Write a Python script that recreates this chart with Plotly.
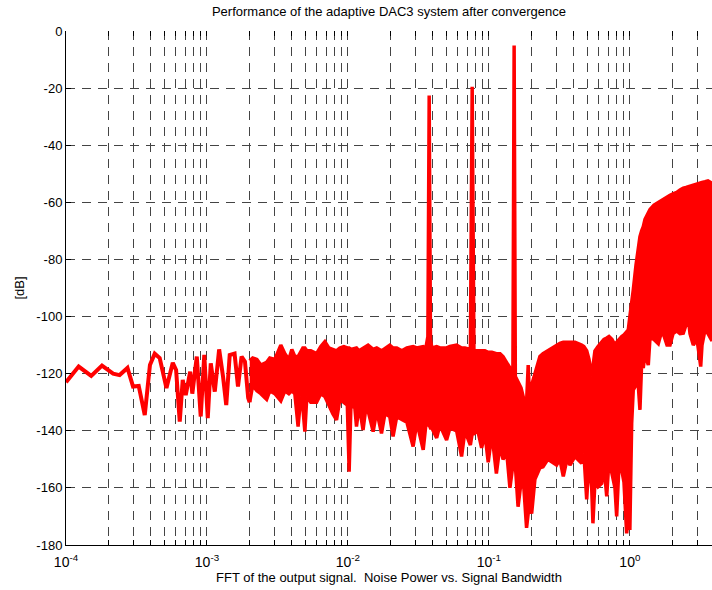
import math
import plotly.graph_objects as go

# Low-frequency part of the spectrum (sparse FFT bins), frequency and level in dB
line_freq = [1.00e-4, 1.23e-4, 1.51e-4, 1.80e-4, 2.16e-4, 2.40e-4, 2.73e-4, 2.99e-4,
             3.28e-4, 3.62e-4, 3.94e-4, 4.26e-4, 4.62e-4, 5.16e-4, 5.72e-4, 6.04e-4,
             6.41e-4, 6.73e-4, 7.07e-4, 7.60e-4, 7.87e-4, 8.47e-4, 9.03e-4, 9.57e-4,
             1.013e-3, 1.064e-3, 1.136e-3, 1.22e-3, 1.30e-3, 1.37e-3, 1.45e-3, 1.57e-3,
             1.66e-3, 1.76e-3, 1.86e-3, 1.96e-3]
line_db = [-123.0, -117.5, -120.8, -117.2, -120.0, -120.5, -118.0, -124.5,
           -124.3, -134.5, -117.0, -113.0, -114.5, -125.0, -116.2, -118.7,
           -136.8, -122.2, -127.5, -119.3, -127.0, -114.0, -135.0, -113.4,
           -135.6, -116.4, -126.3, -111.5, -121.0, -131.0, -113.5, -113.0,
           -124.5, -114.0, -115.8, -128.5]

# Dense part of the spectrum: upper and lower envelope of the FFT bins
band_freq = [2.01e-3, 2.11e-3, 2.26e-3, 2.41e-3, 2.65e-3, 2.79e-3, 3.03e-3, 3.34e-3,
             3.57e-3, 3.81e-3, 4.00e-3, 4.20e-3, 4.43e-3, 4.63e-3, 4.79e-3, 4.95e-3,
             5.11e-3, 5.45e-3, 5.99e-3, 6.42e-3, 6.86e-3, 7.32e-3, 7.81e-3, 8.30e-3,
             8.76e-3, 9.35e-3, 9.90e-3, 1.02e-2, 1.05e-2, 1.12e-2, 1.15e-2, 1.20e-2,
             1.28e-2, 1.34e-2, 1.39e-2, 1.51e-2, 1.60e-2, 1.73e-2, 1.83e-2, 1.98e-2,
             2.09e-2, 2.22e-2, 2.41e-2, 2.62e-2, 2.90e-2, 3.08e-2, 3.42e-2, 3.57e-2,
             3.69e-2, 3.77e-2, 3.85e-2, 3.94e-2, 4.26e-2, 4.49e-2, 5.01e-2, 5.29e-2,
             5.90e-2, 6.40e-2, 6.76e-2, 7.39e-2, 7.61e-2, 7.83e-2, 8.35e-2, 8.88e-2,
             9.37e-2, 9.89e-2, 0.105, 0.113, 0.120, 0.126, 0.134, 0.141,
             0.148, 0.151, 0.154, 0.161, 0.169, 0.177, 0.185, 0.190,
             0.194, 0.201, 0.212, 0.230, 0.242, 0.262, 0.280, 0.302,
             0.319, 0.337, 0.358, 0.376, 0.408, 0.455, 0.472, 0.494,
             0.513, 0.536, 0.547, 0.565, 0.594, 0.631, 0.655, 0.685,
             0.711, 0.746, 0.784, 0.806, 0.837, 0.875, 0.908, 0.949,
             0.974, 1.000, 1.030, 1.057, 1.105, 1.147, 1.179, 1.212,
             1.245, 1.280, 1.351, 1.389, 1.483, 1.591, 1.663, 1.726,
             1.834, 1.926, 2.022, 2.149, 2.268, 2.393, 2.502, 2.597,
             2.670, 2.818, 2.994, 3.094, 3.181, 3.249, 3.412, 3.584,
             3.825]
band_upper = [-115.5, -114.5, -115.0, -117.0, -116.0, -114.5, -115.0, -110.0,
              -113.0, -115.0, -111.5, -114.0, -114.0, -112.5, -111.0, -111.0,
              -112.0, -112.0, -113.0, -110.5, -108.8, -111.0, -111.5, -112.0,
              -111.0, -110.5, -111.0, -111.0, -111.5, -111.0, -111.0, -112.0,
              -111.0, -110.5, -110.0, -111.5, -111.0, -112.0, -111.0, -110.0,
              -111.0, -111.0, -112.0, -111.0, -110.5, -111.0, -110.5, -111.0,
              -107.0, -22.6, -108.0, -111.0, -110.5, -111.0, -111.0, -110.5,
              -110.0, -111.0, -111.0, -111.5, -19.5, -112.0, -112.0, -112.0,
              -112.0, -112.5, -112.5, -113.0, -113.0, -114.0, -116.0, -118.0,
              -119.0, -5.1, -121.0, -123.0, -125.0, -129.0, -130.0, -117.0,
              -128.0, -124.0, -120.0, -114.0, -113.0, -112.0, -111.0, -110.0,
              -109.4, -109.0, -109.0, -108.8, -109.0, -110.0, -110.5, -112.0,
              -115.0, -121.0, -118.0, -112.0, -110.5, -109.0, -108.0, -107.5,
              -107.0, -108.0, -110.0, -109.0, -108.0, -107.0, -106.4, -105.5,
              -104.7, -100.0, -96.0, -90.7, -82.0, -75.5, -72.0, -70.0,
              -68.5, -66.0, -63.3, -62.5, -61.0, -60.0, -59.5, -59.0,
              -58.0, -57.5, -57.0, -56.5, -55.7, -55.0, -54.8, -54.5,
              -54.3, -53.9, -53.5, -53.3, -53.0, -53.0, -52.8, -52.5,
              -53.3]
band_lower = [-130.0, -124.0, -126.0, -127.0, -129.0, -126.0, -127.0, -129.5,
              -126.0, -127.0, -126.0, -127.0, -138.5, -128.0, -132.0, -140.3,
              -128.0, -130.0, -130.0, -127.0, -128.0, -131.0, -134.0, -136.2,
              -129.0, -130.0, -131.0, -154.3, -131.0, -132.0, -138.5, -131.0,
              -139.7, -132.0, -133.0, -140.3, -133.0, -140.9, -134.0, -135.0,
              -142.0, -135.0, -136.0, -137.0, -145.5, -137.0, -146.7, -138.0,
              -138.0, -138.0, -139.0, -139.0, -142.5, -138.0, -143.2, -139.0,
              -140.0, -149.0, -140.0, -145.0, -141.0, -141.0, -140.0, -146.0,
              -141.0, -151.0, -141.0, -155.0, -145.0, -150.0, -148.0, -160.0,
              -152.0, -152.0, -152.0, -166.6, -158.0, -160.0, -174.0, -170.0,
              -165.0, -169.0, -157.0, -153.0, -152.6, -150.0, -151.0, -152.0,
              -150.0, -156.0, -150.0, -152.0, -149.0, -151.4, -148.0, -164.0,
              -150.0, -160.0, -172.4, -158.0, -159.6, -158.4, -152.0, -163.0,
              -150.0, -155.0, -160.0, -170.0, -152.0, -153.7, -158.0, -175.9,
              -170.0, -174.7, -137.4, -125.7, -124.0, -124.0, -132.7, -116.4,
              -118.0, -113.0, -117.0, -107.5, -108.0, -109.5, -106.0, -106.0,
              -110.0, -110.0, -106.0, -105.0, -106.0, -105.8, -103.0, -100.5,
              -106.0, -110.0, -108.0, -113.0, -117.5, -110.0, -104.7, -106.0,
              -108.5]

# Axis ticks
x_tick_vals = [1e-4, 1e-3, 1e-2, 1e-1, 1e0]
x_tick_text = ["10<sup>-4</sup>", "10<sup>-3</sup>", "10<sup>-2</sup>",
               "10<sup>-1</sup>", "10<sup>0</sup>"]
y_tick_vals = [0, -20, -40, -60, -80, -100, -120, -140, -160, -180]
y_tick_text = ["0", "-20", "-40", "-60", "-80", "-100", "-120", "-140", "-160", "-180"]

RED = "#ff0000"
GRID = "#444444"
FONT = "Liberation Sans, Arial, sans-serif"
DASH = "9px,7px"
x_range = [-4, math.log10(band_freq[-1])]

fig = go.Figure()

# Sparse low-frequency bins as a plain line
fig.add_trace(go.Scatter(
    x=line_freq + [band_freq[0]],
    y=line_db + [band_lower[0]],
    mode="lines",
    line=dict(color=RED, width=4),
    hoverinfo="skip", showlegend=False,
))

# Dense bins drawn as a filled envelope
fig.add_trace(go.Scatter(
    x=band_freq + band_freq[::-1],
    y=band_upper + band_lower[::-1],
    mode="lines",
    fill="toself",
    fillcolor=RED,
    line=dict(color=RED, width=3.5),
    hoverinfo="skip", showlegend=False,
))

fig.update_layout(
    width=712, height=590,
    margin=dict(l=66, r=0, t=31, b=45),
    paper_bgcolor="white", plot_bgcolor="white",
    font=dict(family=FONT, size=13, color="#000"),
    title=dict(
        text="Performance of the adaptive DAC3 system after convergence",
        x=0.5, xref="paper", xanchor="center",
        y=1, yref="container", yanchor="top", pad=dict(t=7),
        font=dict(family=FONT, size=13, color="#000"),
    ),
    xaxis=dict(
        type="log", range=x_range,
        tickvals=x_tick_vals, ticktext=x_tick_text,
        ticks="inside", ticklen=5, tickcolor="#000",
        showline=True, linecolor="#000", linewidth=1,
        showgrid=True, gridcolor=GRID, griddash=DASH, gridwidth=1,
        zeroline=False,
        minor=dict(dtick="D1", ticks="inside", ticklen=5, tickcolor="#000",
                   showgrid=True, gridcolor=GRID, griddash=DASH, gridwidth=1),
        tickfont=dict(size=14),
        ticklabelstandoff=4,
        title=dict(text="FFT of the output signal.  Noise Power vs. Signal Bandwidth",
                   font=dict(size=13), standoff=4),
    ),
    xaxis2=dict(
        type="log", range=x_range, overlaying="x", side="top",
        tickvals=x_tick_vals, showticklabels=False,
        ticks="inside", ticklen=5, tickcolor="#000",
        showline=False, showgrid=False, zeroline=False,
        minor=dict(dtick="D1", ticks="inside", ticklen=5, tickcolor="#000", showgrid=False),
    ),
    yaxis=dict(
        range=[-180, 0], tickvals=y_tick_vals, ticktext=y_tick_text,
        ticks="inside", ticklen=5, tickcolor="#000",
        showline=True, linecolor="#000", linewidth=1,
        showgrid=True, gridcolor=GRID, griddash=DASH, gridwidth=1,
        zeroline=False, tickfont=dict(size=13),
        title=dict(text="[dB]", font=dict(size=13), standoff=8),
    ),
)

# Empty trace so the mirrored top axis is rendered
fig.add_trace(go.Scatter(x=[band_freq[0]], y=[None], xaxis="x2", mode="lines",
                         hoverinfo="skip", showlegend=False))

fig.write_html("out.html")
